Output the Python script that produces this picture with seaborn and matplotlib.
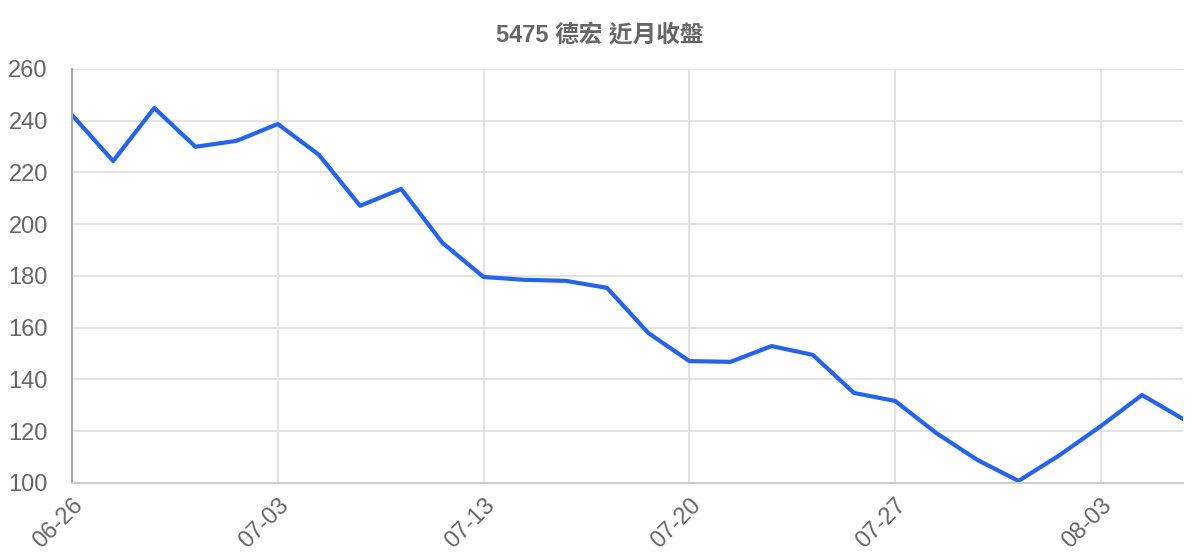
import matplotlib
matplotlib.use("Agg")
import matplotlib.pyplot as plt
import seaborn as sns
import pandas as pd

dates = ["06-26", "06-27", "06-28", "06-29", "06-30", "07-03", "07-05", "07-07",
         "07-10", "07-12", "07-13", "07-14", "07-17", "07-18", "07-19", "07-20",
         "07-21", "07-24", "07-25", "07-26", "07-27", "07-28", "07-31", "08-01",
         "08-02", "08-03", "08-04", "08-07"]
closes = [242.2, 224.4, 244.9, 229.9, 232.2, 238.7, 226.8, 207.1, 213.6, 192.8,
          179.6, 178.5, 178.1, 175.4, 158.0, 147.1, 146.8, 152.9, 149.5, 134.8,
          131.7, 119.3, 108.9, 100.8, 110.8, 122.0, 134.0, 124.7]
y_ticks = [100, 120, 140, 160, 180, 200, 220, 240, 260]
title = "5475 德宏 近月收盤"

df = pd.DataFrame({"idx": range(len(dates)), "date": dates, "close": closes})

sns.set_theme(style="white")
plt.rcParams["font.family"] = ["Liberation Sans", "Noto Sans CJK TC", "DejaVu Sans"]

fig = plt.figure(figsize=(12, 5.6), dpi=100)
ax = fig.add_axes([0.06, 0.1375, 0.926, 0.7395])

sns.lineplot(data=df, x="idx", y="close", ax=ax, color="#2563eb", linewidth=3)

ax.set_xlim(0, len(dates) - 1)
ax.set_ylim(100, 260)
ax.set_yticks(y_ticks)
ax.set_yticklabels([str(v) for v in y_ticks], fontsize=17, color="#666666")
xt = list(range(0, len(dates), 5))
ax.set_xticks(xt)
ax.set_xticklabels([dates[i] for i in xt], rotation=45, ha="right", rotation_mode="anchor",
                   fontsize=17, color="#666666")
ax.tick_params(axis="y", length=14.4, color="#e0e0e0", width=1.5, pad=3)
ax.tick_params(axis="x", length=5, color="#e0e0e0", width=1.5, pad=3)
ax.grid(True, color="#e0e0e0", linewidth=1.3)
ax.set_axisbelow(True)
for s in ["top", "right"]:
    ax.spines[s].set_visible(False)
ax.spines["left"].set_color("#aaaaaa")
ax.spines["left"].set_linewidth(1.5)
ax.spines["bottom"].set_color("#cccccc")
ax.spines["bottom"].set_linewidth(1.5)
ax.set_xlabel("")
ax.set_ylabel("")

fig.text(0.5, 0.937, title, ha="center", va="center", fontsize=17, fontweight="bold",
         color="#666666")

fig.savefig("out.png", dpi=100)
